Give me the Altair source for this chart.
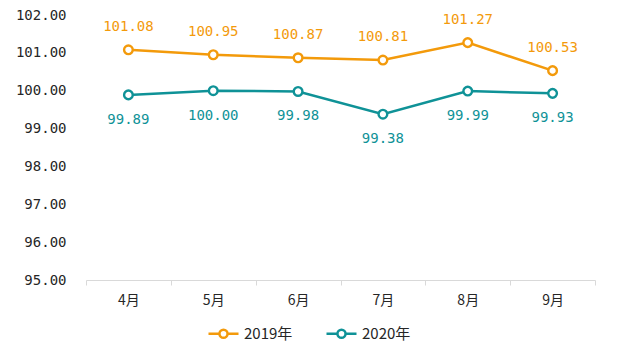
import altair as alt
import pandas as pd

months = ["4月", "5月", "6月", "7月", "8月", "9月"]
series_names = ["2019年", "2020年"]
values_2019 = [101.08, 100.95, 100.87, 100.81, 101.27, 100.53]
values_2020 = [99.89, 100.00, 99.98, 99.38, 99.99, 99.93]
y_ticks = [95, 96, 97, 98, 99, 100, 101, 102]
colors = ["#F39A0B", "#0F9297"]

rows = []
for m, v in zip(months, values_2019):
    rows.append({"month": m, "series": series_names[0], "value": v})
for m, v in zip(months, values_2020):
    rows.append({"month": m, "series": series_names[1], "value": v})
df = pd.DataFrame(rows)

FONT = "Noto Sans CJK SC"
NUMFONT = "DejaVu Sans Mono"

# legend symbol: short line with a hollow circle in the middle
sym = ("M-1,0L-0.27,0M0.27,0L1,0"
       "M-0.27,0A0.27,0.27 0 1,0 0.27,0A0.27,0.27 0 1,0 -0.27,0Z")

x_enc = alt.X("month:N", sort=months, title=None,
              scale=alt.Scale(paddingInner=0, paddingOuter=0),
              axis=alt.Axis(labelAngle=0, tickBand="extent", domainColor="#D9D9D9",
                            tickColor="#D9D9D9", tickSize=5, labelPadding=8,
                            labelFont=FONT, labelFontSize=14, labelColor="#262626"))
y_enc = alt.Y("value:Q", title=None,
              scale=alt.Scale(domain=[95, 102], nice=False, zero=False),
              axis=alt.Axis(values=y_ticks, format=".2f", domain=False, ticks=False,
                            grid=False, labelPadding=20, labelFont=NUMFONT,
                            labelOverlap=False, labelBound=False,
                            labelFontSize=14, labelColor="#262626"))
color_enc = alt.Color("series:N", title=None, sort=series_names,
                      scale=alt.Scale(domain=series_names, range=colors),
                      legend=alt.Legend(orient="none", legendX=121, legendY=302,
                                        direction="horizontal", symbolType=sym,
                                        symbolSize=900, symbolStrokeWidth=2.5,
                                        symbolFillColor="white", labelFont=FONT,
                                        labelFontSize=15, labelColor="#262626",
                                        columnPadding=28, labelOffset=4))

base = alt.Chart(df)

lines = base.mark_line(strokeWidth=2.5).encode(x=x_enc, y=y_enc, color=color_enc)

points = base.mark_point(filled=False, fill="white", fillOpacity=1, opacity=1,
                         size=75, strokeWidth=2.4).encode(
    x=x_enc, y=y_enc, color=color_enc)

labels_top = base.transform_filter(alt.datum.series == series_names[0]).mark_text(
    dy=-23, font=NUMFONT, fontSize=14, color=colors[0]).encode(
    x=x_enc, y=y_enc, text=alt.Text("value:Q", format=".2f"))

labels_bot = base.transform_filter(alt.datum.series == series_names[1]).mark_text(
    dy=25, font=NUMFONT, fontSize=14, color=colors[1]).encode(
    x=x_enc, y=y_enc, text=alt.Text("value:Q", format=".2f"))

chart = alt.layer(lines, points, labels_top, labels_bot).properties(
    width=509, height=265,
    padding={"left": 78, "top": 7, "right": 29, "bottom": 69},
    autosize="none",
    background="white",
).configure_view(stroke=None)

chart.save("out.html", embed_options={"renderer": "svg", "actions": False})
